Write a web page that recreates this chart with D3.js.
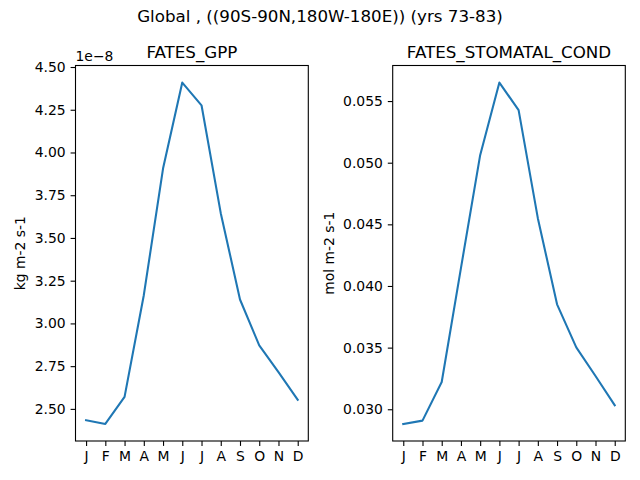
<!DOCTYPE html>
<html>
<head>
<meta charset="utf-8">
<script src="https://cdn.jsdelivr.net/npm/d3@7"></script>
<style>
  body { margin: 0; background: #fff; }
  text { font-family: "DejaVu Sans", sans-serif; fill: #000; }
</style>
</head>
<body>
<div id="graf"></div>
<script>
// Datos
var meses = ["J", "F", "M", "A", "M", "J", "J", "A", "S", "O", "N", "D"];
var gpp = [2.434e-8, 2.412e-8, 2.570e-8, 3.165e-8, 3.906e-8, 4.409e-8,
           4.276e-8, 3.645e-8, 3.140e-8, 2.872e-8, 2.715e-8, 2.553e-8];
var stomatal = [0.02881, 0.02908, 0.03221, 0.04145, 0.05061, 0.05650,
                0.05426, 0.04550, 0.03851, 0.03502, 0.03270, 0.03032];
var gppTicks = [2.50, 2.75, 3.00, 3.25, 3.50, 3.75, 4.00, 4.25, 4.50];
var stomTicks = [0.030, 0.035, 0.040, 0.045, 0.050, 0.055];

var ancho_total = 640, alto_total = 480;
var azul = "#1f77b4";

svg = d3.select("#graf").append("svg")
  .attr("width", ancho_total)
  .attr("height", alto_total);

svg.append("text")
  .attr("x", 320).attr("y", 22)
  .attr("text-anchor", "middle")
  .style("font-size", "16.7px")
  .text("Global , ((90S-90N,180W-180E)) (yrs 73-83)");

function panel(opts) {
  var left = opts.left, right = opts.right, top = 65.5, bottom = 441;
  var g = svg.append("g");

  // Escaladores (márgenes 5% como matplotlib)
  var x = d3.scaleLinear().domain([-0.55, 11.55]).range([left, right]);
  var ext = d3.extent(opts.values);
  var pad = (ext[1] - ext[0]) * 0.05;
  var y = d3.scaleLinear().domain([ext[0] - pad, ext[1] + pad]).range([bottom, top]);

  // Ejes
  var xAxis = d3.axisBottom(x)
    .tickValues(d3.range(12))
    .tickFormat((d) => meses[d])
    .tickSizeInner(4.9).tickSizeOuter(0).tickPadding(4.9);
  var gx = g.append("g").attr("transform", `translate(0, ${bottom})`).call(xAxis);

  var yAxis = d3.axisLeft(y)
    .tickValues(opts.ticks.map((t) => t * opts.mult))
    .tickFormat((d) => d3.format(opts.fmt)(d / opts.mult))
    .tickSizeInner(4.9).tickSizeOuter(0).tickPadding(4.9);
  var gy = g.append("g").attr("transform", `translate(${left}, 0)`).call(yAxis);

  [gx, gy].forEach((a) => {
    a.select(".domain").remove();
    a.selectAll(".tick line").attr("stroke", "#000").attr("stroke-width", 1.1);
    a.selectAll(".tick text").style("font-size", "13.9px").attr("fill", "#000");
  });

  // Línea
  var lineaGen = d3.line()
    .x((d, i) => x(i))
    .y((d) => y(d));
  g.append("path")
    .attr("d", lineaGen(opts.values))
    .attr("fill", "none")
    .attr("stroke", azul)
    .attr("stroke-width", 2.08)
    .attr("stroke-linejoin", "round")
    .attr("stroke-linecap", "square");

  // Marco
  g.append("rect")
    .attr("x", left).attr("y", top)
    .attr("width", right - left).attr("height", bottom - top)
    .attr("fill", "none").attr("stroke", "#000").attr("stroke-width", 1.1);

  g.append("text")
    .attr("x", (left + right) / 2).attr("y", top - 8)
    .attr("text-anchor", "middle")
    .style("font-size", "16.7px")
    .text(opts.title);

  g.append("text")
    .attr("transform", `translate(${opts.labelX}, ${(top + bottom) / 2}) rotate(-90)`)
    .attr("text-anchor", "middle")
    .style("font-size", "13.9px")
    .text(opts.ylabel);

  if (opts.offset) {
    g.append("text")
      .attr("x", left).attr("y", top - 5)
      .style("font-size", "13.9px")
      .text(opts.offset);
  }
}

panel({
  left: 75.5, right: 308.3, values: gpp, ticks: gppTicks, mult: 1e-8,
  fmt: ".2f", title: "FATES_GPP", ylabel: "kg m-2 s-1", labelX: 25,
  offset: "1e\u22128"
});
panel({
  left: 392.7, right: 625.3, values: stomatal, ticks: stomTicks, mult: 1,
  fmt: ".3f", title: "FATES_STOMATAL_COND", ylabel: "mol m-2 s-1", labelX: 334
});
</script>
</body>
</html>
